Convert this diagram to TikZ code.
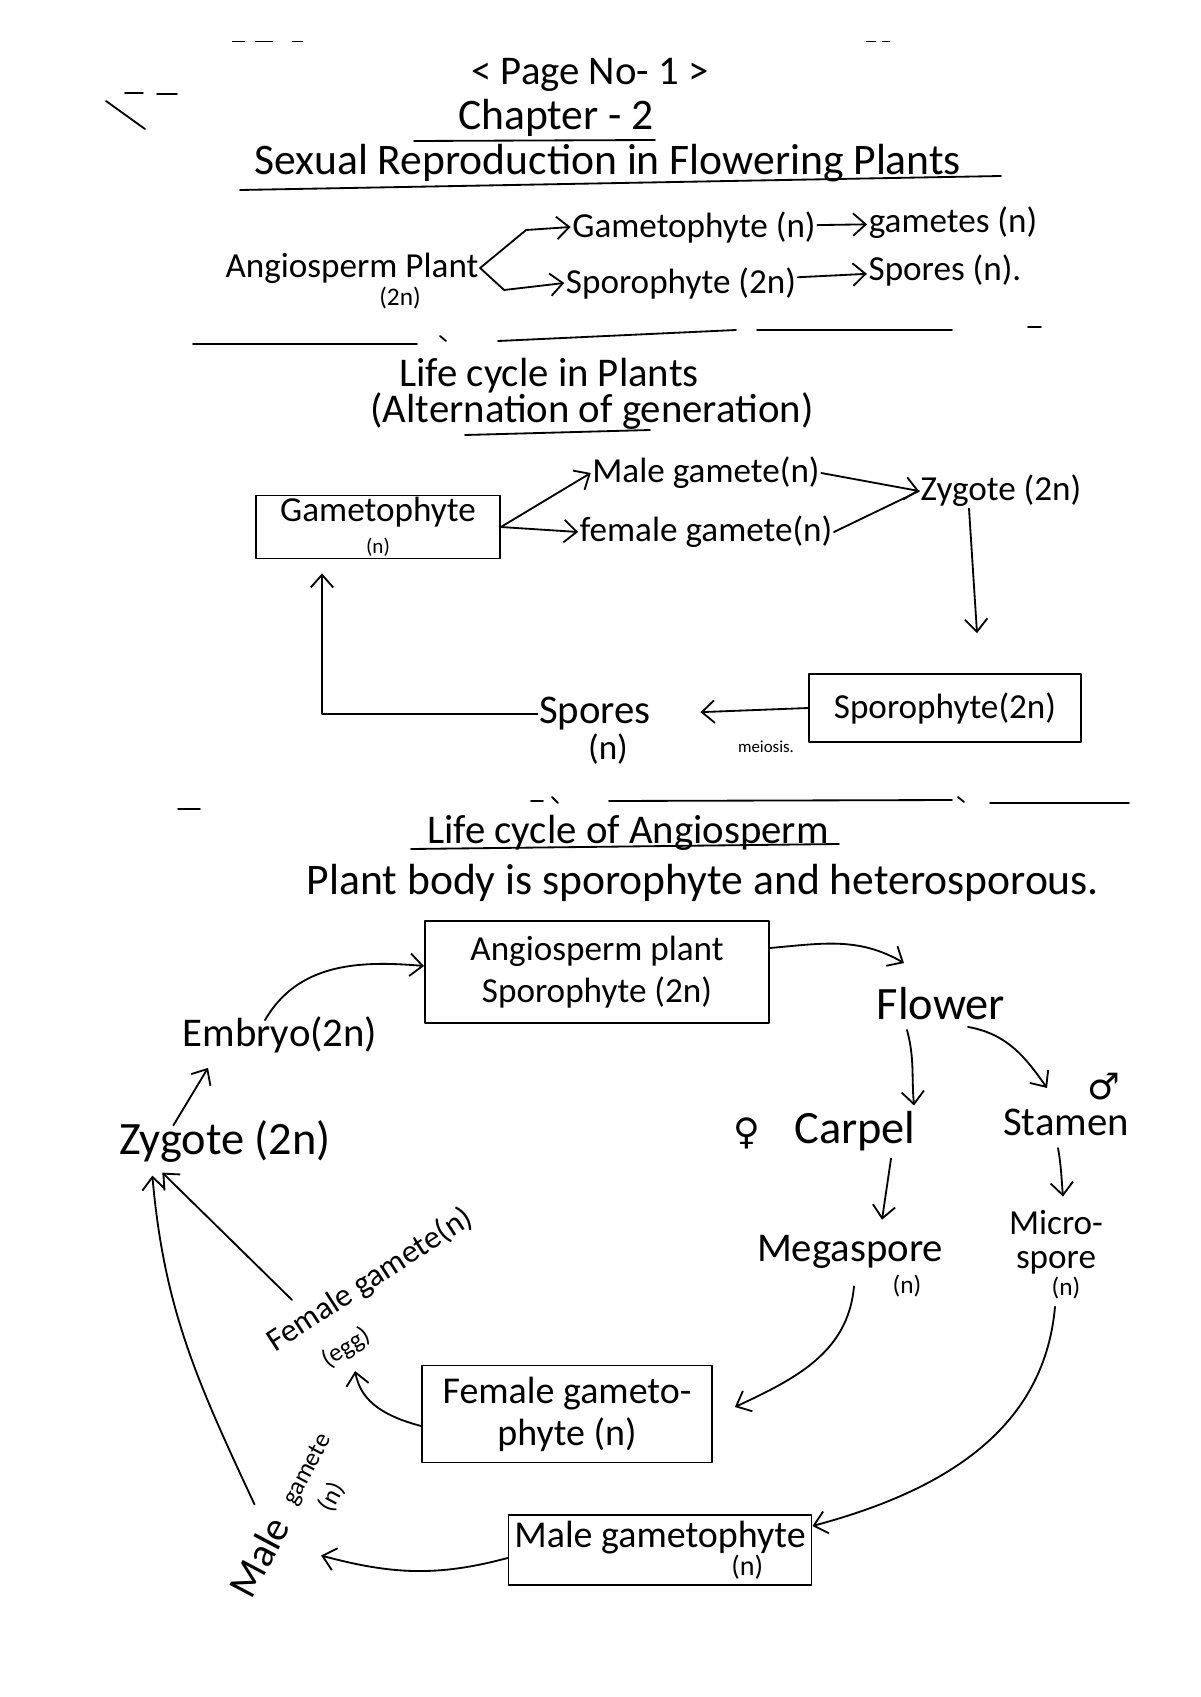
\documentclass[tikz,border=0pt]{standalone}
\usepackage{fontspec}
\setmainfont{Carlito}
\newfontfamily\symfont{DejaVu Sans}
\usetikzlibrary{arrows.meta}
\tikzset{
  hw/.style={font=\fontsize{25}{26}\selectfont, inner sep=1pt},
  hwbig/.style={font=\fontsize{29}{30}\selectfont, inner sep=1pt},
  hwlarge/.style={font=\fontsize{33}{34}\selectfont, inner sep=1pt},
  hwtitle/.style={font=\fontsize{31}{32}\selectfont, inner sep=1pt},
  hwsmall/.style={font=\fontsize{18}{19}\selectfont, inner sep=1pt},
  hwtiny/.style={font=\fontsize{12}{13}\selectfont, inner sep=1pt},
  sexsym/.style={font=\symfont\fontsize{26}{26}\selectfont, inner sep=1pt},
  pen/.style={line width=1.3pt, line cap=round, line join=round},
  arr/.style={pen, -{Straight Barb[length=9pt,width=16pt,line width=1.3pt]}},
  box/.style={draw, pen, inner sep=2pt, align=center},
}
\begin{document}
\begin{tikzpicture}[x=0.25mm,y=0.25mm]
\fill[white] (0,0) rectangle (1200,-1697);
\useasboundingbox (0,0) rectangle (1200,-1697);

% stray pen marks
\draw[pen] (106,-101)--(145,-129);
\draw[pen] (125,-93)--(143,-93) (157,-94)--(177,-94);
\draw[thin] (232,-41)--(245,-41) (255,-41)--(273,-41) (292,-41)--(303,-41) (866,-41)--(876,-41) (882,-41)--(890,-41);

% heading
\node[hwbig] (page) at (590,-75) {< Page No- 1 >};
\node[hwtitle] (chap) at (556,-118) {Chapter - 2};
\draw[pen] (414,-141) -- (655,-140);
\node[hwtitle] (title) at (608,-163) {Sexual Reproduction in Flowering Plants};
\draw[pen] (240,-190) -- (1001,-176);

% two generations
\node[hw] (angio) at (352,-268) {Angiosperm Plant};
\node[hwsmall] (angion) at (400,-298) {(2n)};
\node[hw] (gam) at (694,-227) {Gametophyte (n)};
\node[hw] (gamt) at (953,-223) {gametes (n)};
\node[hw] (spo) at (681,-283) {Sporophyte (2n)};
\node[hw] (spr) at (945,-270) {Spores (n).};
\draw[arr] (angio.east) -- ++(46,38) -- (gam.west);
\draw[arr] (angio.east) -- ++(24,-22) -- (spo.west);
\draw[arr] (gam) -- (gamt);
\draw[arr] (spo) -- (spr);

\draw[pen] (193,-344)--(417,-344) (498,-341)--(736,-330) (757,-330)--(952,-330) (1028,-327)--(1041,-327);
\draw[pen] (440,-336)--(446,-341);

% life cycle in plants
\node[hwbig] (lcp) at (549,-376) {Life cycle in Plants};
\node[hwbig] (alt) at (592,-411) {(Alternation of generation)};
\draw[pen] (465,-435) -- (650,-430);

\node[box, hw, minimum width=61mm, minimum height=15.75mm] (gbox) at (378,-527) {Gametophyte\\[-3pt]{\fontsize{15}{16}\selectfont (n)}};
\node[hw] (male) at (706,-473) {Male gamete(n)};
\node[hw] (fem) at (706,-532) {female gamete(n)};
\node[hw] (zyg) at (1001,-491) {Zygote (2n)};
\draw[arr] (gbox.east) -- (male.west);
\draw[arr] (gbox.east) -- (fem.west);
\draw[arr] (male.east) -- (zyg.west);
\draw[pen] (fem.east) -- (zyg.west);
\node[box, hw, minimum width=68mm, minimum height=17mm] (sbox) at (945,-708) {Sporophyte(2n)};
\draw[arr] ([xshift=-8mm]zyg.south) -- ([xshift=8mm,yshift=10mm]sbox.north);
\node[hwbig] (spr2) at (595,-714) {Spores};
\node[hw] (spr2n) at (608,-749) {(n)};
\node[hwtiny] (mei) at (766,-747) {meiosis.};
\draw[arr, shorten >=12mm] (sbox.west) -- (spr2.east);
\draw[arr, shorten >=3.5mm] (spr2.west) -| ([xshift=-14mm]gbox.south);

\draw[pen] (178,-809)--(200,-809) (531,-801)--(543,-801) (609,-801)--(952,-800) (990,-803)--(1129,-803);
\draw[pen] (552,-797)--(558,-803) (958,-797)--(964,-802);

% life cycle of angiosperm
\node[hwbig] (lca) at (628,-833) {Life cycle of Angiosperm};
\draw[pen] (411,-849) -- (839,-844);
\node[hwtitle] (body) at (703,-883) {Plant body is sporophyte and heterosporous.};

\node[box, hw, minimum width=86mm, minimum height=25.5mm] (abox) at (597,-972) {Angiosperm plant\\[4pt]Sporophyte (2n)};
\node[hwlarge] (flw) at (941,-1004) {Flower};
\node[hwlarge] (carp) at (855,-1131) {Carpel};
\node[sexsym] (fsym) at (747,-1133) {♀};
\node[hwbig] (stam) at (1066,-1122) {Stamen};
\node[sexsym] (msym) at (1104,-1087) {♂};
\node[hw, align=center] (micro) at (1056,-1242) {Micro-\\[-2pt]spore};
\node[hwsmall] (micron) at (1066,-1288) {(n)};
\node[hwbig] (mega) at (850,-1252) {Megaspore};
\node[hwsmall] (megan) at (907,-1286) {(n)};
\node[box, font=\fontsize{27}{28}\selectfont, minimum width=72.5mm, minimum height=24.25mm] (fbox) at (567,-1414) {Female gameto-\\[2pt]phyte (n)};
\node[box, font=\fontsize{27}{28}\selectfont, minimum width=75.75mm, minimum height=17.5mm] (mbox) at (660,-1550) {Male gametophyte\\[-8pt]\hspace*{4.6em}{\fontsize{20}{20}\selectfont (n)}};
\node[hwbig] (emb) at (280,-1035) {Embryo(2n)};
\node[hwlarge] (zyg2) at (225,-1142) {Zygote (2n)};
\node[font=\fontsize{23}{24}\selectfont, inner sep=1pt, rotate=33] (fgam) at (370,-1280) {Female gamete(n)};
\node[hwsmall, rotate=33] (egg) at (346,-1348) {(egg)};
\node[hwbig, rotate=62] (maleg) at (259,-1557) {Male};
\node[hwsmall, rotate=62] (malegm) at (308,-1470) {gamete};
\node[hwsmall, rotate=62] (malen) at (332,-1497) {(n)};

\draw[arr] ([yshift=6mm]abox.east) to[out=5,in=150] ([xshift=-9.25mm,yshift=5.75mm]flw.north);
\draw[arr] ([xshift=-8.5mm,yshift=-2mm]flw.south) to[out=-75,in=95] ([xshift=14.75mm,yshift=1mm]carp.north);
\draw[arr] ([xshift=6.75mm,yshift=-1.25mm]flw.south) to[out=-10,in=125] ([xshift=-4.75mm,yshift=4.75mm]stam.north);
\draw[arr] ([xshift=-2mm,yshift=-2.75mm]stam.south) to[out=-80,in=95] ([xshift=1.75mm,yshift=3mm]micro.north);
\draw[arr] ([xshift=9mm,yshift=-1.5mm]carp.south) -- ([xshift=8mm,yshift=3.5mm]mega.north);
\draw[arr] ([xshift=1mm,yshift=-4mm]mega.south) to[out=-95,in=25] ([xshift=5.5mm,yshift=1.75mm]fbox.east);
\draw[arr] ([xshift=-2.75mm,yshift=-1.5mm]micron.south) to[out=-95,in=15] ([yshift=6mm]mbox.east);
\draw[arr] ([yshift=-3mm]fbox.west) to[out=165,in=-80] ([xshift=0.5mm,yshift=-3mm]egg.south);
\draw[arr] ([yshift=-2mm]mbox.west) to[out=195,in=-15] ([xshift=12mm,yshift=2.25mm]maleg.south);
\draw[arr] ([xshift=8mm,yshift=8mm]fgam.north west) -- ([xshift=11.25mm,yshift=-2mm]zyg2.south west);
\draw[arr] ([xshift=-6.25mm,yshift=3.5mm]maleg.east) to[out=115,in=-85] ([xshift=8.75mm,yshift=-2.75mm]zyg2.south west);
\draw[arr] ([xshift=14mm,yshift=-1.5mm]zyg2.north west) -- ([xshift=6.75mm,yshift=-3.25mm]emb.south west);
\draw[arr] ([xshift=-3.75mm,yshift=-1.25mm]emb.north) to[out=60,in=175] ([yshift=1.5mm]abox.west);
\end{tikzpicture}
\end{document}
